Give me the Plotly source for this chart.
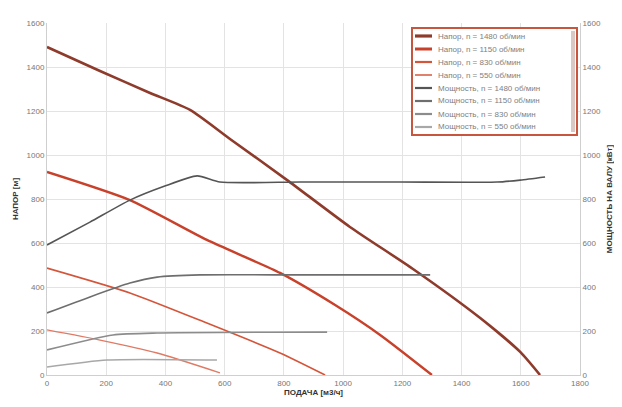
import plotly.graph_objects as go

# расход, м3/ч и напор, м (4 частоты вращения)
q_h1 = [0, 179, 348, 483, 618, 811, 1023, 1236, 1463, 1598, 1665]
h1 = [1491, 1382, 1282, 1205, 1073, 886, 673, 482, 259, 105, 0]
q_h2 = [0, 280, 540, 787, 973, 1125, 1300]
h2 = [923, 795, 614, 464, 318, 182, 0]
q_h3 = [0, 280, 540, 787, 939]
h3 = [486, 373, 236, 100, 0]
q_h4 = [0, 179, 372, 584]
h4 = [205, 159, 100, 10]

# мощность, кВт
q_p1 = [0, 145, 280, 398, 507, 584, 854, 1192, 1520, 1598, 1682]
p1 = [591, 695, 795, 859, 905, 877, 877, 877, 877, 886, 900]
q_p2 = [0, 145, 280, 372, 517, 854, 1294]
p2 = [282, 355, 418, 445, 455, 455, 455]
q_p3 = [0, 223, 372, 946]
p3 = [114, 182, 191, 195]
q_p4 = [0, 203, 574]
p4 = [36, 68, 68]

speeds = ["1480", "1150", "830", "550"]

head_colors = ["#8e3b2c", "#c8412b", "#d4553a", "#e07a64"]
head_widths = [2.6, 2.4, 1.6, 1.3]
power_colors = ["#555555", "#6e6e6e", "#8c8c8c", "#a8a8a8"]

fig = go.Figure()

heads = [(q_h1, h1), (q_h2, h2), (q_h3, h3), (q_h4, h4)]
powers = [(q_p1, p1), (q_p2, p2), (q_p3, p3), (q_p4, p4)]

for i, (q, h) in enumerate(heads):
    fig.add_trace(go.Scatter(
        x=q, y=h, mode="lines", line=dict(color=head_colors[i], width=head_widths[i], shape="spline", smoothing=0.6),
        name="Напор, n = " + speeds[i] + " об/мин", showlegend=False,
    ))

for i, (q, p) in enumerate(powers):
    fig.add_trace(go.Scatter(
        x=q, y=p, mode="lines", yaxis="y2",
        line=dict(color=power_colors[i], width=1.6, shape="spline", smoothing=0.6),
        name="Мощность, n = " + speeds[i] + " об/мин", showlegend=False,
    ))

# легенда вручную (компактная), координаты в пикселях окна
x0, x1 = 47, 580
yb, yt = 375, 23


def px(x):
    return (x - x0) / (x1 - x0)


def py(y):
    return (yb - y) / (yb - yt)


shapes = [dict(type="rect", xref="paper", yref="paper", x0=px(412), x1=px(577), y0=py(135), y1=py(28),
               line=dict(color="#c8553d", width=2), fillcolor="white", layer="above")]
shapes.append(dict(type="rect", xref="paper", yref="paper", x0=px(571), x1=px(575), y0=py(132), y1=py(31),
                   line=dict(width=0), fillcolor="#d9c8c4", layer="above"))
annotations = []
labels = ["Напор, n = " + s + " об/мин" for s in speeds] + ["Мощность, n = " + s + " об/мин" for s in speeds]
colors = head_colors + power_colors
widths = head_widths + [1.6] * 4
for i, lab in enumerate(labels):
    yy = 36 + 13 * i
    shapes.append(dict(type="line", xref="paper", yref="paper", x0=px(415), x1=px(432), y0=py(yy), y1=py(yy),
                       line=dict(color=colors[i], width=widths[i] + 0.6), layer="above"))
    annotations.append(dict(xref="paper", yref="paper", x=px(436), y=py(yy), text=lab, showarrow=False,
                            xanchor="left", yanchor="middle", font=dict(size=8, color="#808080")))

# страница имеет отступ 8 px, поэтому поля уменьшены на 8
fig.update_layout(
    width=622, height=407,
    margin=dict(l=39, r=50, t=15, b=40),
    plot_bgcolor="white", paper_bgcolor="white",
    font=dict(family="Liberation Sans, Arial", size=9, color="#666666"),
    showlegend=False,
    shapes=shapes,
    annotations=annotations,
    xaxis=dict(
        range=[0, 1800], dtick=200, showgrid=True, gridcolor="#e3e3e3", zeroline=False,
        showline=True, linecolor="#cfcfcf", ticks="", tickfont=dict(size=8, color="#777777"),
        title=dict(text="<b>ПОДАЧА [м3/ч]</b>", font=dict(size=8, color="#333333"), standoff=2),
        automargin=False,
    ),
    yaxis=dict(
        range=[0, 1600], dtick=200, showgrid=True, gridcolor="#e3e3e3", zeroline=False,
        showline=True, linecolor="#cfcfcf", tickfont=dict(size=8, color="#777777"),
        title=dict(text="<b>НАПОР [м]</b>", font=dict(size=8, color="#333333"), standoff=6),
        automargin=False,
    ),
    yaxis2=dict(
        range=[0, 1600], dtick=200, overlaying="y", side="right", showgrid=False, zeroline=False,
        showline=True, linecolor="#cfcfcf", tickfont=dict(size=8, color="#777777"),
        title=dict(text="<b>МОЩНОСТЬ НА ВАЛУ [кВт]</b>", font=dict(size=8, color="#333333"), standoff=6),
        automargin=False,
    ),
)

fig.write_html("out.html")
